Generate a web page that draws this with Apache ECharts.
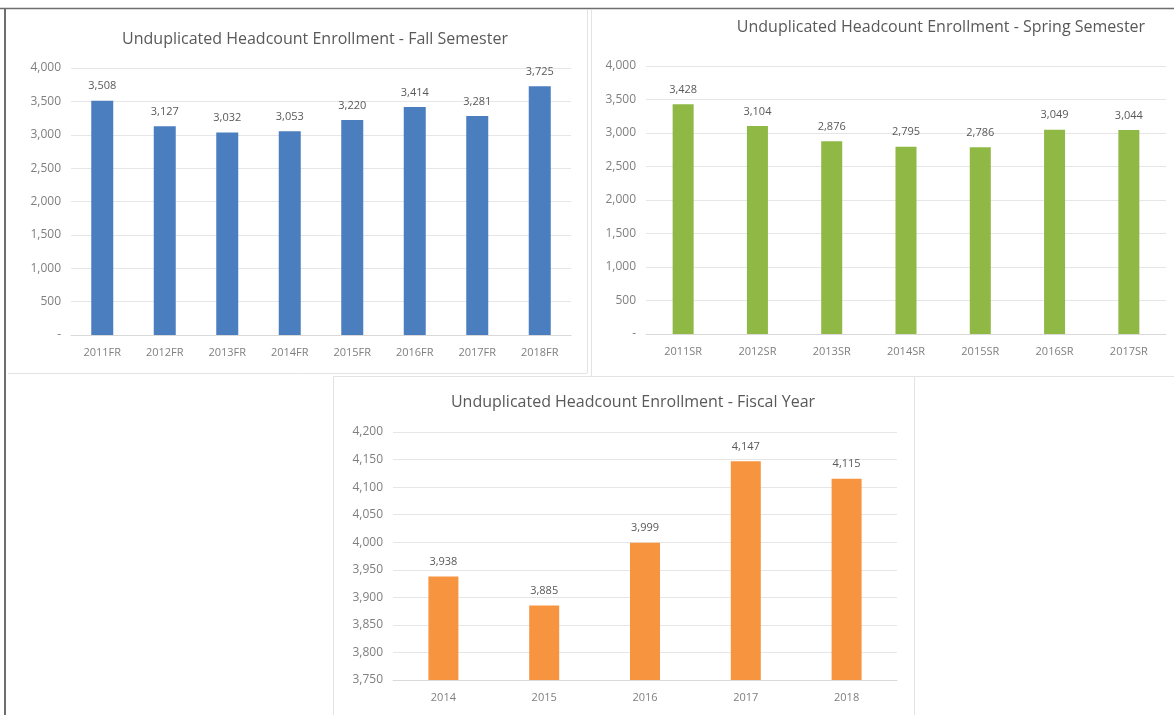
<!DOCTYPE html>
<html>
<head>
<meta charset="utf-8">
<script src="https://cdn.jsdelivr.net/npm/echarts@6/dist/echarts.min.js"></script>
<style>
html,body{margin:0;padding:0;background:#fff;}
#c{width:1174px;height:715px;}
</style>
</head>
<body>
<div id="c"></div>
<script>
var fallCategories = ['2011FR','2012FR','2013FR','2014FR','2015FR','2016FR','2017FR','2018FR'];
var fallValues = [3508, 3127, 3032, 3053, 3220, 3414, 3281, 3725];
var springCategories = ['2011SR','2012SR','2013SR','2014SR','2015SR','2016SR','2017SR'];
var springValues = [3428, 3104, 2876, 2795, 2786, 3049, 3044];
var fiscalCategories = ['2014','2015','2016','2017','2018'];
var fiscalValues = [3938, 3885, 3999, 4147, 4115];
var titles = [
  'Unduplicated Headcount Enrollment - Fall Semester',
  'Unduplicated Headcount Enrollment - Spring Semester',
  'Unduplicated Headcount Enrollment - Fiscal Year'
];

var FONT = 'Open Sans, Noto Sans, sans-serif';
function fmt(v){ return v === 0 ? '-' : Number(v).toLocaleString('en-US'); }

var chart = echarts.init(document.getElementById('c'), null, {renderer:'canvas'});

function xAxis(idx, cats){
  return {
    type:'category', gridIndex: idx, data: cats,
    axisTick:{show:false},
    axisLine:{lineStyle:{color:'#d9d9d9'}},
    axisLabel:{color:'#7f7f7f', fontSize:11, fontFamily:FONT, margin:12}
  };
}
function yAxis(idx, min, max, interval){
  return {
    type:'value', gridIndex: idx, min:min, max:max, interval:interval,
    axisLine:{show:false}, axisTick:{show:false},
    splitLine:{lineStyle:{color:'#e6e6e6'}},
    axisLabel:{color:'#7f7f7f', fontSize:12, fontFamily:FONT, margin:10,
      formatter:function(v){ return fmt(v); }}
  };
}
function bar(idx, data, color, width){
  return {
    type:'bar', xAxisIndex: idx, yAxisIndex: idx, data: data,
    barWidth: width, itemStyle:{color:color},
    label:{show:true, position:'top', distance:9, color:'#595959', fontSize:11, fontFamily:FONT,
      formatter:function(p){ return fmt(p.value); }},
    silent:true, animation:false
  };
}
function title(text, x, y){
  return {text:text, left:x, top:y, textAlign:'center',
    textStyle:{color:'#595959', fontSize:16, fontWeight:'normal', fontFamily:FONT}};
}

var option = {
  animation:false,
  title:[ title(titles[0], 310, 26), title(titles[1], 936, 14), title(titles[2], 628, 389) ],
  grid:[
    {left:71, right:603, top:68, bottom:380},
    {left:646, right:8, top:66, bottom:381},
    {left:393, right:277, top:432, bottom:35}
  ],
  xAxis:[ xAxis(0, fallCategories), xAxis(1, springCategories), xAxis(2, fiscalCategories) ],
  yAxis:[ yAxis(0, 0, 4000, 500), yAxis(1, 0, 4000, 500), yAxis(2, 3750, 4200, 50) ],
  series:[
    bar(0, fallValues, '#4a7ebf', 22),
    bar(1, springValues, '#8fb845', 21),
    bar(2, fiscalValues, '#f79440', 30)
  ],
  graphic:[
    {type:'line', shape:{x1:0,y1:8.5,x2:1174,y2:8.5}, style:{stroke:'#6e6e6e', lineWidth:1.5}, silent:true},
    {type:'line', shape:{x1:5,y1:8,x2:5,y2:715}, style:{stroke:'#6e6e6e', lineWidth:2}, silent:true},
    {type:'line', shape:{x1:8,y1:373.5,x2:587,y2:373.5}, style:{stroke:'#e3e3e3', lineWidth:1}, silent:true},
    {type:'line', shape:{x1:587.5,y1:10,x2:587.5,y2:373}, style:{stroke:'#e3e3e3', lineWidth:1}, silent:true},
    {type:'line', shape:{x1:591.5,y1:10,x2:591.5,y2:376}, style:{stroke:'#e3e3e3', lineWidth:1}, silent:true},
    {type:'line', shape:{x1:591,y1:376.5,x2:1174,y2:376.5}, style:{stroke:'#e3e3e3', lineWidth:1}, silent:true},
    {type:'line', shape:{x1:333.5,y1:376,x2:333.5,y2:715}, style:{stroke:'#e3e3e3', lineWidth:1}, silent:true},
    {type:'line', shape:{x1:333,y1:376.5,x2:915,y2:376.5}, style:{stroke:'#e3e3e3', lineWidth:1}, silent:true},
    {type:'line', shape:{x1:914.5,y1:377,x2:914.5,y2:715}, style:{stroke:'#e3e3e3', lineWidth:1}, silent:true}
  ]
};
chart.setOption(option);
</script>
</body>
</html>
